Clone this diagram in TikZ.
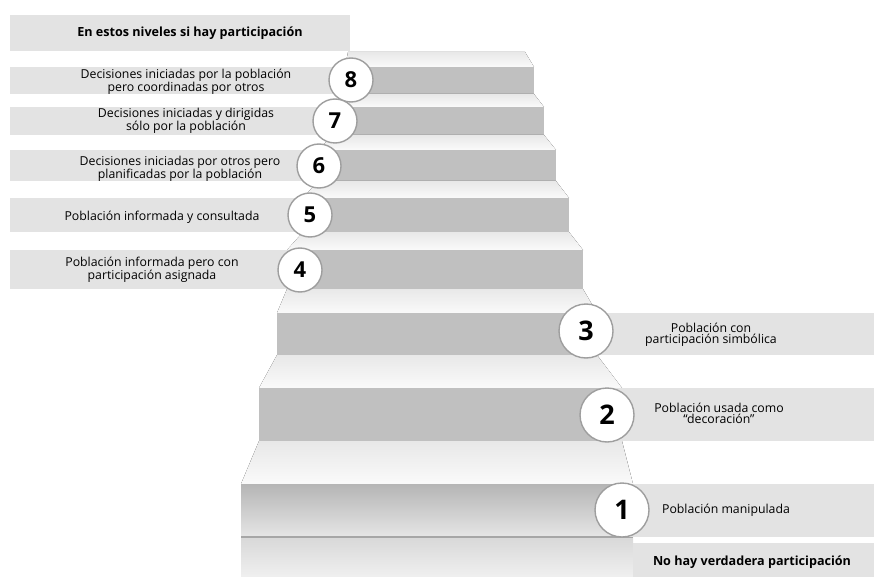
\documentclass[tikz,border=0pt]{standalone}
\usepackage{fontspec}
\setmainfont{Open Sans}
\usepackage{tikz}
\usepackage{xcolor}

\definecolor{boxgray}{HTML}{E3E3E3}
\definecolor{risergray}{HTML}{C0C0C0}
\definecolor{ringgray}{HTML}{9E9E9E}

\begin{document}
\begin{tikzpicture}[x=1pt, y=-1pt,
    lbl/.style={font=\fontsize{12.3}{11.2}\selectfont, align=center, inner sep=0pt},
    boldlbl/.style={font=\fontsize{12.6}{12}\selectfont\bfseries, inner sep=0pt},
    num/.style={circle, draw=ringgray, line width=1.4pt, fill=white, minimum size=44pt, inner sep=0pt, font=\fontsize{22}{22}\selectfont\bfseries},
    bignum/.style={num, minimum size=54pt, font=\fontsize{27}{27}\selectfont\bfseries},
    tread/.style={top color=black!9, bottom color=black!2}]
    \useasboundingbox (0,0) rectangle (874,577);

    % Header
    \fill[boxgray] (10,15) rectangle (350,51);
    \node[boldlbl] (head) at (190,33) {En estos niveles si hay participación};

    % Staircase: treads and risers, top to bottom
    \fill[tread] (348,52) -- (525,52) -- (534,67) -- (345,67) -- cycle;
    \fill[risergray] (345,67) rectangle (534,94);
    \fill[tread] (345,94) -- (534,94) -- (544,107) -- (333,107) -- cycle;
    \fill[risergray] (333,107) rectangle (544,135);
    \fill[tread] (333,135) -- (544,135) -- (556,150) -- (318,150) -- cycle;
    \fill[risergray] (318,150) rectangle (556,181);
    \fill[tread] (318,181) -- (556,181) -- (569,198) -- (303,198) -- cycle;
    \fill[risergray] (303,198) rectangle (569,232);
    \fill[tread] (303,232) -- (569,232) -- (583,250) -- (287,250) -- cycle;
    \fill[risergray] (287,250) rectangle (583,289);
    \fill[tread] (287,289) -- (583,289) -- (597,313) -- (277,313) -- cycle;
    \fill[risergray] (277,313) rectangle (597,355);
    \fill[tread] (277,355) -- (597,355) -- (622,388) -- (259,388) -- cycle;
    \fill[risergray] (259,388) rectangle (622,441);
    \fill[tread] (259,441) -- (622,441) -- (633,484) -- (241,484) -- cycle;
    \shade[top color=black!29, bottom color=black!10] (241,484) rectangle (633,537);
    \draw[black!35, line width=1.5pt] (241,537) -- (633,537);
    \shade[top color=black!15, bottom color=black!6] (241,538) rectangle (633,577);

    % Label boxes on the left
    \fill[boxgray] (10,67) rectangle (351,94);
    \fill[boxgray] (10,107) rectangle (335,135);
    \fill[boxgray] (10,150) rectangle (319,181);
    \fill[boxgray] (10,198) rectangle (310,232);
    \fill[boxgray] (10,250) rectangle (300,289);

    % Label boxes on the right
    \fill[boxgray] (586,313) rectangle (874,355);
    \fill[boxgray] (607,388) rectangle (874,441);
    \fill[boxgray] (622,484) rectangle (874,537);
    \fill[boxgray] (633,543) rectangle (874,577);

    % Texts
    \node[lbl] (lab8) at (186,81.5) {Decisiones iniciadas por la población\\pero coordinadas por otros};
    \node[lbl] (lab7) at (186,121) {Decisiones iniciadas y dirigidas\\sólo por la población};
    \node[lbl] (lab6) at (180,168.5) {Decisiones iniciadas por otros pero\\planificadas por la población};
    \node[lbl] (lab5) at (162,217) {Población informada y consultada};
    \node[lbl] (lab4) at (152,270) {Población informada pero con\\participación asignada};
    \node[lbl] (lab3) at (711,334.5) {Población con\\participación simbólica};
    \node[lbl] (lab2) at (719,413.5) {Población usada como\\“decoración”};
    \node[lbl] (lab1) at (726,510) {Población manipulada};
    \node[boldlbl] (foot) at (752,562) {No hay verdadera participación};

    % Step numbers
    \node[num] (n8) at (351,80) {8};
    \node[num] (n7) at (335,121) {7};
    \node[num] (n6) at (319,166) {6};
    \node[num] (n5) at (310,215) {5};
    \node[num] (n4) at (300,270) {4};
    \node[bignum] (n3) at (586,331) {3};
    \node[bignum] (n2) at (607,415) {2};
    \node[bignum] (n1) at (622,510) {1};
\end{tikzpicture}
\end{document}
